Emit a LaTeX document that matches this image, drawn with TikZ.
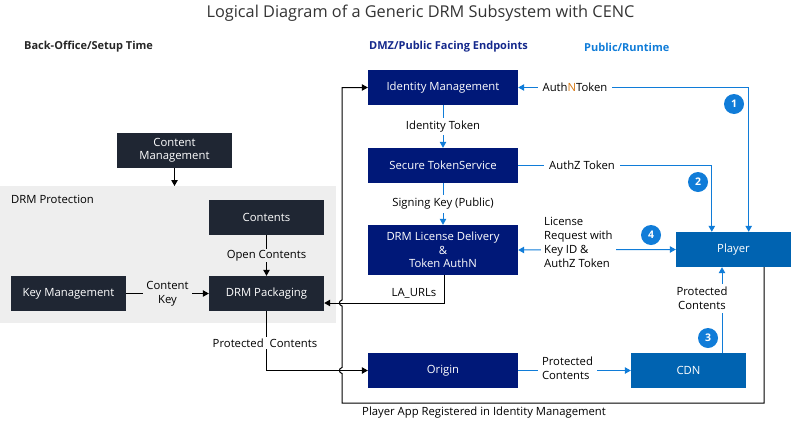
\documentclass[tikz,border=0pt]{standalone}
\usepackage{fontspec}
\setmainfont{Open Sans}
\usetikzlibrary{arrows.meta,calc}
\definecolor{darkbox}{RGB}{31,38,51}
\definecolor{navybox}{RGB}{0,24,120}
\definecolor{midblue}{RGB}{0,99,177}
\definecolor{lblue}{RGB}{16,124,216}
\definecolor{protgray}{RGB}{238,238,238}
\definecolor{hdrnavy}{RGB}{20,40,140}
\definecolor{orangeN}{RGB}{214,120,20}
\tikzset{
  box/.style={minimum width=115pt,minimum height=35pt,inner sep=0pt,text=white,align=center,font=\fontsize{11.3}{13.5}\selectfont},
  dbox/.style={box,fill=darkbox},
  nbox/.style={box,fill=navybox,minimum width=150pt},
  bbox/.style={box,fill=midblue},
  lbl/.style={font=\fontsize{11.3}{14}\selectfont,inner sep=1pt,align=center},
  blk/.style={draw=black,line width=1pt,-{Triangle[length=6pt,width=6.5pt]}},
  blu/.style={draw=lblue,line width=1pt,-{Triangle[length=6pt,width=6.5pt]}},
  num/.style={circle,fill=lblue,text=white,minimum size=20pt,inner sep=0pt,font=\fontsize{10.5}{12}\selectfont\bfseries},
  hdr/.style={anchor=west,inner sep=0pt,font=\fontsize{11}{13}\selectfont\bfseries},
}
\begin{document}
\begin{tikzpicture}[x=1pt,y=-1pt]
\useasboundingbox (0,0) rectangle (792,426);
% title
\node[font=\fontsize{16.3}{18}\selectfont,text=black!80] (title) at (420.5,13) {Logical Diagram of a Generic DRM Subsystem with CENC};
\node[hdr,text=black!85] (h1) at (24,47) {Back-Office/Setup Time};
\node[hdr,text=hdrnavy] (h2) at (369,47) {DMZ/Public Facing Endpoints};
\node[hdr,text=lblue] (h3) at (584,47) {Public/Runtime};
% protection region
\fill[protgray] (0,186) rectangle (336,323);
\node[anchor=west,inner sep=0pt,font=\fontsize{11.3}{13}\selectfont] (dp) at (11,199) {DRM Protection};
% boxes
\node[dbox] (cm) at (174.5,150.5) {Content\\Management};
\node[dbox] (contents) at (266.5,217.5) {Contents};
\node[dbox] (km) at (68.5,293.5) {Key Management};
\node[dbox] (pkg) at (266.5,293.5) {DRM Packaging};
\node[nbox] (im) at (443,87.5) {Identity Management};
\node[nbox] (sts) at (443,165.5) {Secure TokenService};
\node[nbox,minimum height=50pt] (lic) at (443,250) {DRM License Delivery\\\&\\Token AuthN};
\node[nbox] (origin) at (443,370.5) {Origin};
\node[bbox] (cdn) at (688.5,370.5) {CDN};
\node[bbox] (player) at (733.5,249.5) {Player};
% black connectors
\draw[blk] (cm.south) -- (cm.south |- 0,186);
\draw[blk] (contents.south) -- node[lbl,fill=protgray] {Open Contents} (pkg.north);
\draw[blk] (km.east) -- node[lbl,fill=protgray,inner sep=3pt] {Content\\Key} (pkg.west);
\draw[blk] (pkg.south) |- (origin.west);
\node[lbl,fill=white,inner sep=2pt] (pclbl) at (265,343) {Protected\hspace{6pt}Contents};
\draw[blk] ($(lic.south)+(1,0)$) |- coordinate[pos=0.75] (lamid) ($(pkg.east)+(0,9.5)$);
\node[lbl] (lalbl) at (414,293) {LA\_URLs};
% loop with hops
\draw[blk] ($(player.south east)+(-27,0)$) -- ++(0,136) -- (342,403) -- (342,373.5)
  .. controls (338.5,372.5) and (338.5,368.5) .. (342,367.5) -- (342,306)
  .. controls (338.5,305) and (338.5,301) .. (342,300) |- (im.west);
\node[lbl,anchor=west] (reg) at (361,413) {Player App Registered in Identity Management};
% blue connectors
\draw[blu] (im.south) -- node[lbl,fill=white,inner sep=3pt] {Identity Token} (sts.north);
\draw[blu] (sts.south) -- node[lbl,fill=white,inner sep=3pt] {Signing Key (Public)} (lic.north);
\draw[blu,{Triangle[length=6pt,width=6.5pt]}-{Triangle[length=6pt,width=6.5pt]}] (im.east) -| ($(player.north east)+(-42.5,0)$);
\node[lbl,fill=white,inner sep=5pt] (authn) at (575,87.5) {Auth\textcolor{orangeN}{N}Token};
\draw[blu] (sts.east) -| ($(player.north west)+(36,0)$);
\node[lbl,fill=white,inner sep=5pt] (authz) at (582,165) {AuthZ Token};
\draw[blu,{Triangle[length=6pt,width=6.5pt]}-{Triangle[length=6pt,width=6.5pt]}] (lic.east) -- (player.west);
\node[lbl,fill=white,align=left,anchor=west,inner sep=3pt,font=\fontsize{11.3}{14}\selectfont] (lreq) at (541,242.5) {License\\Request with\\Key ID \&\\AuthZ Token};
\draw[blu] ($(cdn.north)+(33.5,0)$) -- ($(player.south)+(-11.5,0)$);
\node[lbl,fill=white,inner sep=3pt,font=\fontsize{11.3}{14.5}\selectfont] (pc2) at (702,298.5) {Protected\\Contents};
\draw[blu] (origin.east) -- (cdn.west);
\node[lbl,fill=white,align=left,inner sep=4pt,font=\fontsize{11.3}{14}\selectfont] (pc3) at (567.5,368) {Protected\\Contents};
% numbers
\node[num] (n1) at (734,104) {1};
\node[num] (n2) at (698,182) {2};
\node[num] (n3) at (708,338) {3};
\node[num] (n4) at (651,235) {4};
\end{tikzpicture}
\end{document}
